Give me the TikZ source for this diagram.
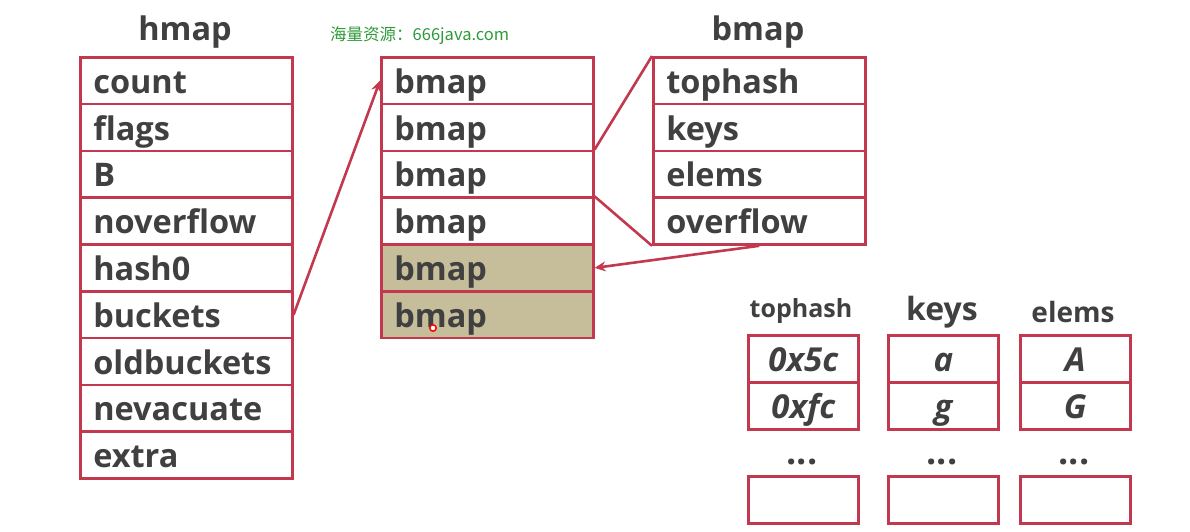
\documentclass[tikz,border=0pt]{standalone}
\usepackage{fontspec}
\setmainfont{Open Sans}
\newfontfamily\cjk{Noto Sans CJK SC}
\usetikzlibrary{arrows.meta}
\definecolor{cellred}{HTML}{C2384F}
\definecolor{txt}{HTML}{404040}
\definecolor{khaki}{HTML}{C6BD9B}
\definecolor{wmgreen}{HTML}{2E9A3A}
\tikzset{
  cell/.style={draw=cellred, line width=2.6pt, minimum height=46.8pt,
    text width=186pt, align=left, inner xsep=13pt, inner ysep=0pt,
    text height=29pt, text depth=4pt,
    font=\bfseries\fontsize{32.5}{33}\selectfont, text=txt, anchor=north west},
  shaded/.style={cell, fill=khaki},
  small/.style={draw=cellred, line width=2.6pt, minimum width=110pt, minimum height=47pt,
    inner sep=0pt, text height=29pt, text depth=4pt,
    font=\bfseries\itshape\fontsize{33}{34}\selectfont, text=txt, anchor=north west},
  title/.style={font=\bfseries\fontsize{32.5}{33}\selectfont, text=txt, inner sep=0pt},
  dots/.style={text=txt, font=\bfseries\fontsize{36}{38}\selectfont, inner sep=0pt, anchor=base},
  link/.style={draw=cellred, line width=2.6pt},
  arrow/.style={link, -{Stealth[length=11pt,width=10pt]}}
}
\begin{document}
\begin{tikzpicture}[x=1pt,y=-1pt]
\useasboundingbox (0,0) rectangle (1190,531);
% watermark
\node[text=wmgreen, font=\cjk\fontsize{16.5}{17}\selectfont, inner sep=0pt, anchor=west] (wm) at (330,36) {海量资源：666java.com};
% hmap
\node[title] (ht) at (185,32) {hmap};
\foreach \t [count=\i from 0] in {count,flags,B,noverflow,hash0,buckets,oldbuckets,nevacuate,extra}
  \node[cell] (h\i) at (79,{56+46.8*\i}) {\t};
% middle bmaps
\foreach \i in {0,...,3}
  \node[cell] (m\i) at (380,{56+46.8*\i}) {bmap};
\foreach \i in {4,5}
  \node[shaded] (m\i) at (380,{56+46.8*\i}) {bmap};
% right bmap
\node[title] (bt) at (758,32) {bmap};
\foreach \t [count=\i from 0] in {tophash,keys,elems,overflow}
  \node[cell] (b\i) at (652,{56+46.8*\i}) {\t};
% connectors
\draw[arrow] (h5.east) -- (m0.west);
\draw[link] (m2.north east) -- (b0.north west);
\draw[link] (m3.north east) -- (b3.south west);
\draw[arrow] (b3.south) -- (m4.east);
% cursor mark
\draw[red, line width=1.5pt, fill=white] (433,328) circle (3.2pt);
% bottom right tables
\node[text=txt, font=\bfseries\fontsize{25}{27}\selectfont, inner sep=0pt] (tt) at (801,311) {tophash};
\node[text=txt, font=\bfseries\fontsize{32}{34}\selectfont, inner sep=0pt] (kt) at (942,312) {keys};
\node[text=txt, font=\bfseries\fontsize{28}{30}\selectfont, inner sep=0pt] (et) at (1073,312) {elems};
\node[small] (t0) at (747,334) {0x5c};
\node[small] (t1) at (747,381) {0xfc};
\node[small] (k0) at (887,334) {a};
\node[small] (k1) at (887,381) {g};
\node[small] (e0) at (1019,334) {A};
\node[small] (e1) at (1019,381) {G};
\node[dots] (td) at (802,464) {...};
\node[dots] (kd) at (942,464) {...};
\node[dots] (ed) at (1074,464) {...};
\node[small] (t2) at (747,475) {};
\node[small] (k2) at (887,475) {};
\node[small] (e2) at (1019,475) {};
\end{tikzpicture}
\end{document}
